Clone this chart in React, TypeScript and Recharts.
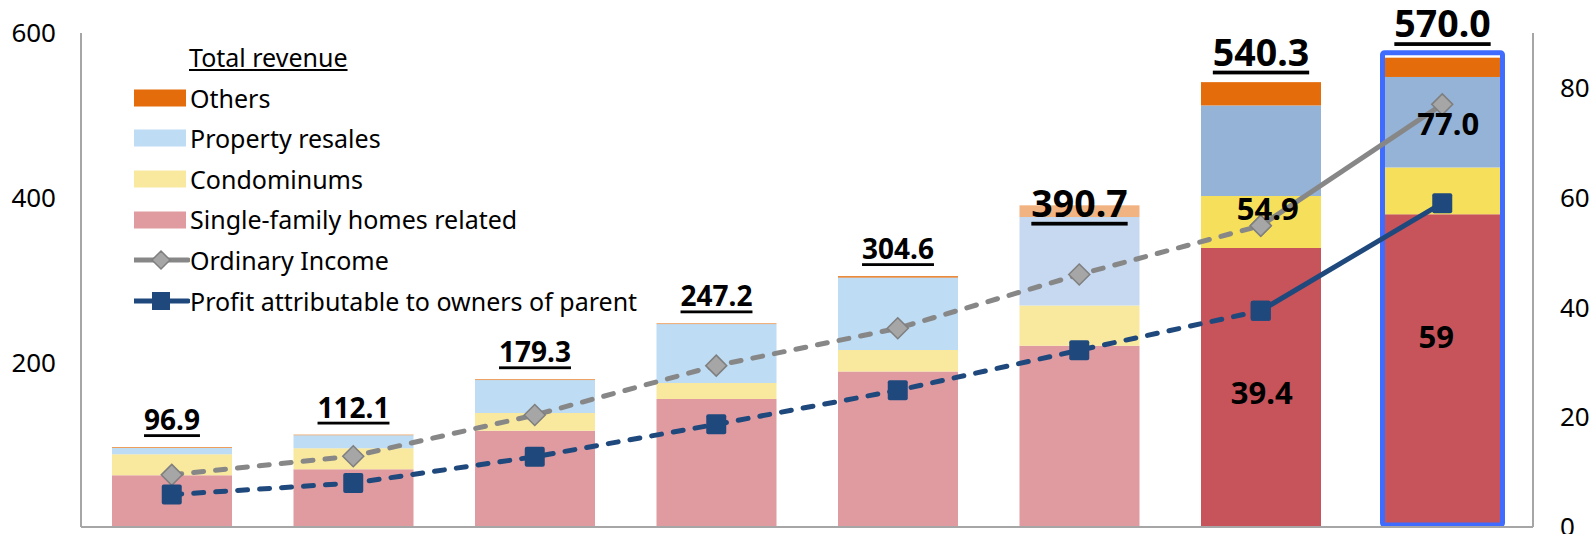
import React from "react";
import { ComposedChart, Bar, Line, XAxis, YAxis, Cell, LabelList } from "recharts";

// fiscal years (axis labels are cut off in the source picture)
const categories = ["FY2013", "FY2014", "FY2015", "FY2016", "FY2017", "FY2018", "FY2019", "FY2020"];

// revenue breakdown (left axis)
const singleFamily = [63, 70, 117, 155.5, 189, 220, 339, 380];
const condominiums = [25.5, 25.5, 21.5, 19.5, 26, 49, 63, 56.6];
const propertyResales = [7.6, 16, 40, 71.5, 88, 107.5, 110, 110];
const others = [0.8, 0.6, 0.8, 0.7, 1.6, 14.2, 28.3, 23.4];
const totalRevenue = [96.9, 112.1, 179.3, 247.2, 304.6, 390.7, 540.3, 570.0];

// profit (right axis)
const ordinaryIncome = [9.5, 12.9, 20.4, 29.4, 36.2, 46, 54.9, 77.0];
const profitToOwners = [5.9, 8.0, 12.8, 18.7, 24.9, 32.2, 39.4, 59];

const leftTicks = [200, 400, 600];
const rightTicks = [0, 20, 40, 60, 80];

const planIndex = 7; // last year is the plan, drawn solid + boxed
const darkFrom = 6;

const FONT = "'Noto Sans', 'Open Sans', sans-serif";

const colors = {
  single: ["#DF9BA0", "#C6545A"],
  condo: ["#F9E99E", "#F5DF5B"],
  resale: ["#BEDCF3", "#95B3D7"],
  others: ["#E46C0A", "#E46C0A"],
  oi: "#878787",
  profit: "#1F497D",
  box: "#3F6CFF",
};

const data = categories.map((name, i) => ({
  name,
  single: singleFamily[i],
  condo: condominiums[i],
  resale: propertyResales[i],
  others: others[i],
  total: totalRevenue[i],
  oiDash: i < planIndex ? ordinaryIncome[i] : null,
  oiSolid: i >= planIndex - 1 ? ordinaryIncome[i] : null,
  prDash: i < planIndex ? profitToOwners[i] : null,
  prSolid: i >= planIndex - 1 ? profitToOwners[i] : null,
}));

const pick = (pair: string[], i: number) => (i >= darkFrom ? pair[1] : pair[0]);
const resaleFill = (i: number) => (i === 5 ? "#C6D9F0" : pick(colors.resale, i));
const othersFill = (i: number) => (i === 5 ? "#F2B382" : colors.others[0]);

const Diamond = (p: any) => {
  const { cx, cy, index } = p;
  if (cx == null || cy == null || p.value == null) return <g key={`d${index}`} />;
  const r = 10.5;
  return (
    <path
      key={`d${index}`}
      d={`M${cx},${cy - r}L${cx + r},${cy}L${cx},${cy + r}L${cx - r},${cy}Z`}
      fill="#A6A6A6"
      stroke="#7F7F7F"
      strokeWidth={1.5}
    />
  );
};

const Square = (p: any) => {
  const { cx, cy, index } = p;
  if (cx == null || cy == null || p.value == null) return <g key={`s${index}`} />;
  return <rect key={`s${index}`} x={cx - 10} y={cy - 10} width={20} height={20} rx={2} fill={colors.profit} />;
};

const OthersShape = (p: any) => {
  const { x, y, width, height, index, background } = p;
  const rect = <rect x={x} y={y} width={width} height={Math.max(height, 0)} fill={othersFill(index)} />;
  if (index !== planIndex) return rect;
  const bottom = background ? background.y + background.height : y + height;
  return (
    <g>
      {rect}
      <rect x={x} y={y - 5} width={width} height={bottom - y + 3} fill="none" stroke={colors.box} strokeWidth={5} rx={2} />
    </g>
  );
};

const TotalLabel = (p: any) => {
  const { x, y, width, index, value } = p;
  if (value == null) return null;
  const big = index >= 5;
  const lift = index === 5 ? 3 : index === planIndex ? 35 : big ? 31 : 28;
  return (
    <text
      x={x + width / 2}
      y={y - lift}
      textAnchor="middle"
      dominantBaseline="central"
      fontFamily={FONT}
      fontWeight={700}
      fontSize={big ? 37.5 : 28}
      textDecoration="underline"
      fill="#000"
    >
      {Number(value).toFixed(1)}
    </text>
  );
};

const OiLabel = (p: any) => {
  const { x, y, index, value } = p;
  if (value == null) return null;
  const dx = index === planIndex ? 6 : 7;
  const dy = index === planIndex ? 19 : -18;
  return (
    <text x={x + dx} y={y + dy} textAnchor="middle" dominantBaseline="central" fontFamily={FONT} fontWeight={700} fontSize={31} fill="#000">
      {Number(value).toFixed(1)}
    </text>
  );
};

const ProfitLabel = (p: any) => {
  const { x, y, index, value } = p;
  if (value == null) return null;
  const dx = index === planIndex ? -6 : 1;
  const dy = index === planIndex ? 133 : 81;
  return (
    <text x={x + dx} y={y + dy} textAnchor="middle" dominantBaseline="central" fontFamily={FONT} fontWeight={700} fontSize={31} fill="#000">
      {index === planIndex ? String(value) : Number(value).toFixed(1)}
    </text>
  );
};

const legendRows = [
  { label: "Others", kind: "box", color: colors.others[0] },
  { label: "Property resales", kind: "box", color: colors.resale[0] },
  { label: "Condominums", kind: "box", color: colors.condo[0] },
  { label: "Single-family homes related", kind: "box", color: colors.single[0] },
  { label: "Ordinary Income", kind: "diamond", color: colors.oi },
  { label: "Profit attributable to owners of parent", kind: "square", color: colors.profit },
];

const LegendBox = () => (
  <div
    style={{
      position: "absolute",
      left: 134,
      top: 37,
      fontFamily: FONT,
      fontSize: 25,
      color: "#000",
      lineHeight: "40.6px",
    }}
  >
    <div style={{ paddingLeft: 55, textDecoration: "underline" }}>Total revenue</div>
    {legendRows.map((r) => (
      <div key={r.label} style={{ display: "flex", alignItems: "center", height: 40.6 }}>
        <svg width={56} height={24}>
          {r.kind === "box" && <rect x={0} y={3.5} width={52} height={17} fill={r.color} />}
          {r.kind === "diamond" && (
            <g>
              <line x1={0} y1={12} x2={54} y2={12} stroke={r.color} strokeWidth={5} strokeLinecap="round" />
              <path d="M27,3L36,12L27,21L18,12Z" fill="#A6A6A6" stroke="#7F7F7F" strokeWidth={1.5} />
            </g>
          )}
          {r.kind === "square" && (
            <g>
              <line x1={0} y1={12} x2={54} y2={12} stroke={r.color} strokeWidth={5} strokeLinecap="round" />
              <rect x={18} y={3} width={18} height={18} fill={r.color} />
            </g>
          )}
        </svg>
        <span style={{ whiteSpace: "nowrap" }}>{r.label}</span>
      </div>
    ))}
  </div>
);

export default function App() {
  return (
    <div style={{ width: 1592, height: 534, position: "relative", background: "#fff", overflow: "hidden" }}>
      <style>{"body{margin:0}"}</style>
      <ComposedChart width={1592} height={534} data={data} margin={{ top: 33, right: 0, bottom: 0, left: 0 }}>
        <XAxis dataKey="name" height={7} tick={false} tickLine={false} axisLine={{ stroke: "#A6A6A6", strokeWidth: 2 }} />
        <YAxis
          yAxisId="left"
          width={81}
          domain={[0, 600]}
          ticks={leftTicks}
          interval={0}
          tickSize={0}
          tickMargin={25}
          tickLine={false}
          axisLine={{ stroke: "#A6A6A6", strokeWidth: 2 }}
          tick={{ fontFamily: FONT, fontSize: 26, fill: "#000" }}
        />
        <YAxis
          yAxisId="right"
          orientation="right"
          width={59}
          domain={[0, 90]}
          ticks={rightTicks}
          interval={0}
          tickSize={0}
          tickMargin={27}
          tickLine={false}
          axisLine={{ stroke: "#A6A6A6", strokeWidth: 2 }}
          tick={{ fontFamily: FONT, fontSize: 26, fill: "#000" }}
        />
        <Bar yAxisId="left" dataKey="single" stackId="rev" barSize={120} isAnimationActive={false}>
          {data.map((_, i) => (
            <Cell key={i} fill={pick(colors.single, i)} />
          ))}
        </Bar>
        <Bar yAxisId="left" dataKey="condo" stackId="rev" barSize={120} isAnimationActive={false}>
          {data.map((_, i) => (
            <Cell key={i} fill={pick(colors.condo, i)} />
          ))}
        </Bar>
        <Bar yAxisId="left" dataKey="resale" stackId="rev" barSize={120} isAnimationActive={false}>
          {data.map((_, i) => (
            <Cell key={i} fill={resaleFill(i)} />
          ))}
        </Bar>
        <Bar yAxisId="left" dataKey="others" stackId="rev" barSize={120} shape={OthersShape} isAnimationActive={false}>
          <LabelList dataKey="total" content={TotalLabel} />
        </Bar>
        <Line
          yAxisId="right"
          dataKey="oiDash"
          stroke={colors.oi}
          strokeWidth={5}
          strokeDasharray="10 12"
          strokeLinecap="round"
          dot={Diamond}
          activeDot={false}
          isAnimationActive={false}
        />
        <Line
          yAxisId="right"
          dataKey="oiSolid"
          stroke={colors.oi}
          strokeWidth={5}
          dot={Diamond}
          activeDot={false}
          isAnimationActive={false}
        >
          <LabelList dataKey="oiSolid" content={OiLabel} />
        </Line>
        <Line
          yAxisId="right"
          dataKey="prDash"
          stroke={colors.profit}
          strokeWidth={5}
          strokeDasharray="10 12"
          strokeLinecap="round"
          dot={Square}
          activeDot={false}
          isAnimationActive={false}
        />
        <Line
          yAxisId="right"
          dataKey="prSolid"
          stroke={colors.profit}
          strokeWidth={5}
          dot={Square}
          activeDot={false}
          isAnimationActive={false}
        >
          <LabelList dataKey="prSolid" content={ProfitLabel} />
        </Line>
      </ComposedChart>
      <LegendBox />
    </div>
  );
}
